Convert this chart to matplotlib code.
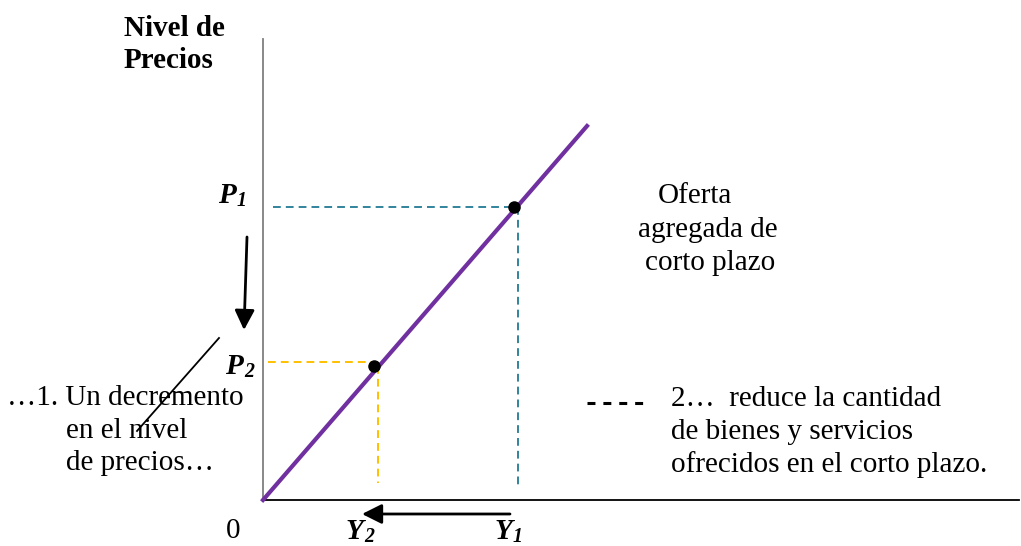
import matplotlib
matplotlib.use("Agg")
import matplotlib.pyplot as plt

plt.rcParams['font.family'] = ['Liberation Serif', 'DejaVu Serif']

# curva de oferta agregada de corto plazo (unidades: pixeles desde el origen)
supply_q = [0, 324]
supply_p = [0, 374]

# equilibrios
q1, p1 = 251, 293
q2, p2 = 111, 134

oferta_lines = ["Oferta", "agregada de", "corto plazo"]
left_lines = ["\u20261. Un decremento", "en el nivel", "de precios\u2026"]
right_lines = ["2\u2026  reduce la cantidad", "de bienes y servicios",
               "ofrecidos en el corto plazo."]

PURPLE = '#7030A0'
TEAL = '#31849B'
YELLOW = '#FFC000'
FS = 21

fig = plt.figure(figsize=(10.21, 5.46), dpi=100)
ax = fig.add_axes([0, 0, 1, 1])
ax.set_xlim(-263, 758)
ax.set_ylim(-46, 500)
ax.axis('off')

# ejes
ax.plot([0, 0], [0, 461], color='#7f7f7f', lw=1.3)
ax.plot([0, 756], [0, 0], color='black', lw=1.3)

# lineas guia
ax.plot([10, q1], [p1, p1], color=TEAL, lw=1.4, dashes=(4, 2.6))
ax.plot([q1 + 4, q1 + 4], [p1, 15], color=TEAL, lw=1.4, dashes=(4, 2.6))
ax.plot([5, q2], [p2 + 4, p2 + 4], color=YELLOW, lw=1.4, dashes=(4, 2.6))
ax.plot([q2 + 4, q2 + 4], [p2, 17], color=YELLOW, lw=1.4, dashes=(4, 2.6))

# curva y puntos
ax.plot(supply_q, supply_p, color=PURPLE, lw=3)
ax.plot([q1, q2], [p1, p2], 'o', color='black', ms=8, zorder=5)

# flechas
arrow = dict(arrowstyle='-|>,head_length=0.6,head_width=0.3', color='black',
             lw=2, mutation_scale=20, shrinkA=0, shrinkB=0)
ax.annotate('', xy=(-19, 170), xytext=(-16, 263), arrowprops=arrow)
ax.annotate('', xy=(99, -14), xytext=(247, -14), arrowprops=arrow)
ax.plot([-44, -126], [162, 69], color='black', lw=1.3)
ax.plot([324, 382], [97, 97], color='black', lw=2.2, dashes=(2.6, 2.6))

# textos
ax.text(-139, 464, "Nivel de", fontsize=FS, fontweight='bold', va='baseline')
ax.text(-139, 432, "Precios", fontsize=FS, fontweight='bold', va='baseline')


def sub_label(x, y, main, sub):
    ax.text(x, y, main, fontsize=FS, fontweight='bold', style='italic', va='baseline')
    ax.text(x + 19, y - 3, sub, fontsize=FS * 0.68, fontweight='bold', style='italic',
            va='baseline')


sub_label(-45, 297, "P", "1")
sub_label(-38, 126, "P", "2")
sub_label(82, -39, "Y", "2")
sub_label(231, -39, "Y", "1")
ax.text(-30, -38, "0", fontsize=FS, ha='center', va='baseline')

for txt, x, y in zip(oferta_lines, [395, 375, 382], [297, 263, 230]):
    ax.text(x, y, txt, fontsize=FS, va='baseline')
for txt, x, y in zip(left_lines, [-256, -197, -197], [95, 62, 30]):
    ax.text(x, y, txt, fontsize=FS, va='baseline')
for txt, y in zip(right_lines, [94, 61, 28]):
    ax.text(408, y, txt, fontsize=FS, va='baseline')

fig.savefig('out.png', dpi=100)
